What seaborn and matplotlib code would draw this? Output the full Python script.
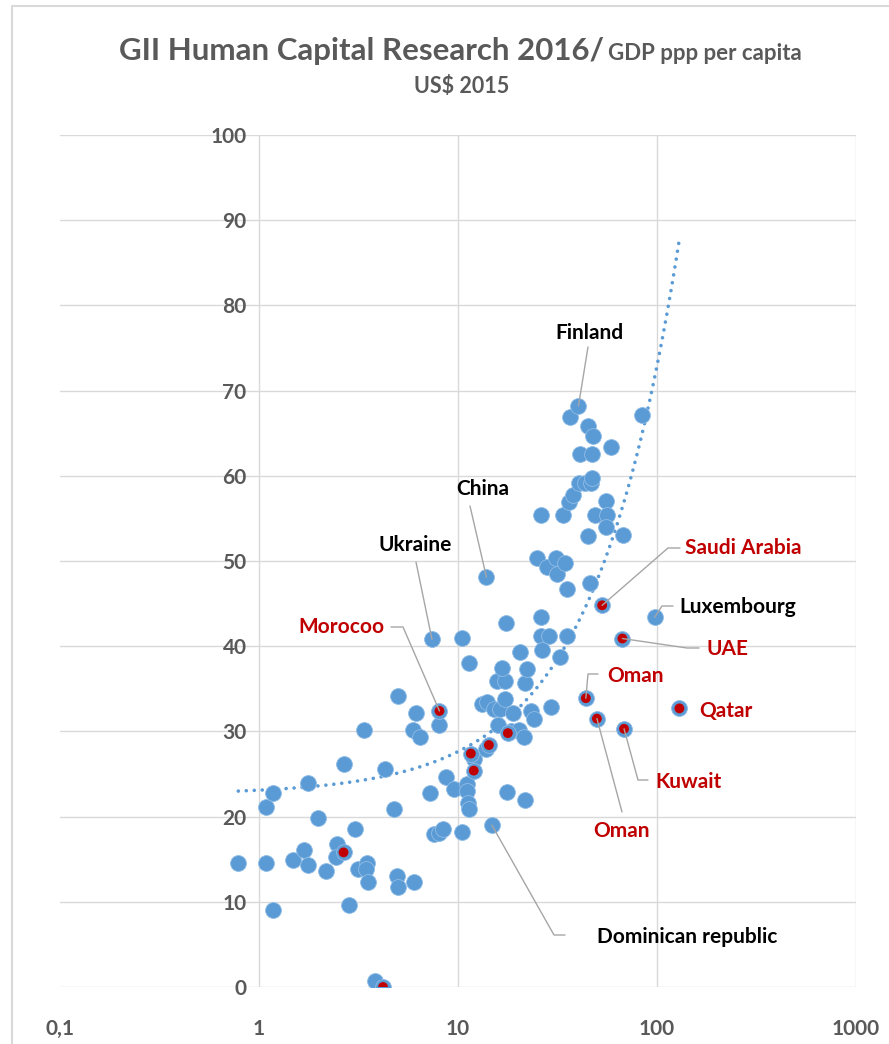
import numpy as np
import pandas as pd
import matplotlib.pyplot as plt
import seaborn as sns
from matplotlib.lines import Line2D

# GDP ppp per capita (thousand US$ 2015) and GII Human Capital & Research score
gdp = [0.787, 1.09, 1.18, 1.49, 1.69, 1.77, 2.17, 2.46, 2.44, 2.84, 3.04, 3.16, 3.48, 3.45,
       3.52, 4.94, 4.97, 6.0, 3.81, 4.79, 1.09, 1.18, 1.77, 1.97, 2.66, 3.36, 4.28, 4.97,
       6.18, 5.94, 6.43, 7.4, 8.07, 7.27, 8.66, 9.54, 7.6, 8.0, 8.4, 10.5, 10.5, 11.1, 11.1,
       11.2, 11.3, 11.3, 12.0, 13.8, 14.8, 13.2, 14.0, 15.1, 16.3, 15.7, 17.3, 15.9, 17.3,
       16.7, 17.5, 17.7, 18.4, 20.3, 21.5, 19.0, 20.4, 21.6, 21.7, 22.3, 23.2, 24.0, 13.9,
       25.0, 26.1, 26.1, 28.5, 26.3, 26.2, 27.9, 29.2, 31.0, 31.4, 32.5, 33.7, 34.4, 35.5,
       35.5, 36.2, 37.9, 36.4, 40.3, 41.1, 40.6, 43.4, 46.5, 47.2, 45.2, 47.6, 47.2, 45.2,
       46.0, 48.6, 55.7, 56.3, 55.3, 58.5, 67.8, 84.0, 97.3]
score = [14.6, 14.5, 9.0, 14.9, 16.1, 14.3, 13.6, 16.8, 15.3, 9.6, 18.6, 13.9, 14.5, 13.9,
         12.3, 13.0, 11.7, 12.3, 0.7, 20.9, 21.1, 22.8, 24.0, 19.8, 26.2, 30.2, 25.6, 34.1,
         32.2, 30.2, 29.3, 40.8, 30.8, 22.8, 24.6, 23.2, 17.9, 18.1, 18.5, 18.2, 41.0, 23.8,
         23.0, 21.6, 20.9, 38.0, 26.8, 27.9, 19.0, 33.2, 33.4, 32.6, 32.6, 35.9, 35.9, 30.7,
         33.8, 37.5, 42.7, 22.9, 30.0, 30.2, 29.3, 32.2, 39.3, 35.7, 22.0, 37.3, 32.4, 31.4,
         48.1, 50.3, 43.4, 41.2, 41.2, 39.6, 55.4, 49.3, 32.9, 50.4, 48.5, 38.7, 55.4, 49.8,
         41.2, 46.7, 56.9, 57.8, 66.9, 68.2, 62.6, 59.1, 59.1, 59.1, 59.8, 65.9, 64.7, 62.6,
         52.9, 47.4, 55.4, 57.0, 55.4, 54.0, 63.4, 53.1, 67.1, 43.4]

# Arab countries, highlighted in red
arab_gdp = [8.07, 11.6, 12.0, 14.3, 17.8, 2.66, 4.20, 53.0, 67.0, 43.9, 49.9, 68.3, 129.6]
arab_score = [32.4, 27.4, 25.4, 28.4, 29.8, 15.8, 0.0, 44.8, 40.9, 33.9, 31.5, 30.3, 32.7]

# linear trendline y = a + b*x
trend_a = 22.6
trend_b = 0.503

x_ticks = [0.1, 1, 10, 100, 1000]
x_tick_labels = ["0,1", "1", "10", "100", "1000"]
y_ticks = list(range(0, 101, 10))

BLUE = "#5B9BD5"
RED = "#C00000"
GREY = "#595959"

W, H = 889, 1044
sns.set_style("white")
plt.rcParams['font.family'] = ['Lato', 'DejaVu Sans']

fig = plt.figure(figsize=(W / 100, H / 100), dpi=100)
ax = fig.add_axes([60 / W, 1 - 987 / H, (856 - 60) / W, (987 - 135) / H])

df = pd.DataFrame({'gdp': gdp, 'score': score})
arab = pd.DataFrame({'gdp': arab_gdp, 'score': arab_score})

ax.set_xscale('log')
ax.set_xlim(0.1, 1000)
ax.set_ylim(0, 100)

# gridlines
for v in y_ticks:
    ax.axhline(v, color="#D9D9D9", lw=1, zorder=0)
for v in x_ticks[1:]:
    ax.axvline(v, color="#D9D9D9", lw=1, zorder=0)

# trendline
xt = np.geomspace(min(gdp), max(arab_gdp), 400)
ax.plot(xt, trend_a + trend_b * xt, color=BLUE, lw=2.6,
        linestyle=(0, (0.01, 2.2)), dash_capstyle='round', zorder=1)

sns.scatterplot(data=df, x='gdp', y='score', ax=ax, s=130, color=BLUE,
                edgecolor='#8FBCE6', linewidth=0.6, zorder=3, legend=False)
sns.scatterplot(data=arab, x='gdp', y='score', ax=ax, s=130, color=BLUE,
                edgecolor='#8FBCE6', linewidth=0.6, zorder=4, legend=False)
sns.scatterplot(data=arab, x='gdp', y='score', ax=ax, s=50, color=RED,
                edgecolor='none', zorder=5, legend=False)

# axis styling: y axis crosses at x = 1
for s in ax.spines.values():
    s.set_visible(False)
ax.spines['left'].set_position(('data', 1))
ax.set_xticks(x_ticks)
ax.set_xticklabels(x_tick_labels)
ax.xaxis.set_minor_locator(plt.NullLocator())
ax.set_yticks(y_ticks)
ax.tick_params(axis='both', length=0, labelsize=15, labelcolor=GREY)
ax.tick_params(axis='x', pad=23)
ax.tick_params(axis='y', pad=9)
for lab in ax.get_xticklabels() + ax.get_yticklabels():
    lab.set_fontweight('bold')
ax.set_xlabel('')
ax.set_ylabel('')

# chart border (left and top edges)
fig.add_artist(Line2D([12, 12, W], [0, H - 6, H - 6], transform=None,
                      color='#D9D9D9', lw=1.5))

# title
fig.text(604 / W, 1 - 60 / H, "GII Human Capital Research 2016/", ha='right', va='baseline',
         fontsize=22.5, fontweight='bold', color=GREY)
fig.text(608 / W, 1 - 60 / H, "GDP ppp per capita", ha='left', va='baseline',
         fontsize=16, fontweight='bold', color=GREY)
fig.text(462 / W, 1 - 93 / H, "US$ 2015", ha='center', va='baseline',
         fontsize=15.5, fontweight='bold', color=GREY)

# labels with leader lines: (text, colour, point, text pixel, ha, elbow pixels)
labels = [
    ("Finland", "black", (gdp[89], score[89]), (589, 333), 'center', [(588, 347)]),
    ("China", "black", (gdp[70], score[70]), (483, 489), 'center', [(470, 506)]),
    ("Ukraine", "black", (gdp[31], score[31]), (415, 545), 'center', [(416, 562)]),
    ("Morocoo", RED, (arab_gdp[0], arab_score[0]), (385, 627), 'right', [(391, 627), (403, 627)]),
    ("Saudi Arabia", RED, (arab_gdp[7], arab_score[7]), (685, 548), 'left', [(680, 548), (668, 548)]),
    ("Luxembourg", "black", (gdp[107], score[107]), (679, 607), 'left', [(673, 606), (662, 606)]),
    ("UAE", RED, (arab_gdp[8], arab_score[8]), (706, 649), 'left', [(699, 648), (687, 648)]),
    ("Oman", RED, (arab_gdp[9], arab_score[9]), (607, 676), 'left', [(598, 674), (588, 674)]),
    ("Qatar", RED, None, (699, 711), 'left', []),
    ("Kuwait", RED, (arab_gdp[11], arab_score[11]), (655, 782), 'left', [(648, 780), (638, 780)]),
    ("Oman", RED, (arab_gdp[10], arab_score[10]), (622, 831), 'center', [(622, 812)]),
    ("Dominican republic", "black", (gdp[48], score[48]), (597, 937), 'left', [(565, 935), (554, 935)]),
]
for text, col, pt, (tx, ty), ha, elbow in labels:
    fig.text(tx / W, 1 - ty / H, text, ha=ha, va='center', fontsize=15,
             fontweight='bold', color=col, zorder=6)
    if pt is not None and elbow:
        px, py = ax.transData.transform(pt)
        xs = [e[0] for e in elbow] + [px]
        ys = [H - e[1] for e in elbow] + [py]
        fig.add_artist(Line2D(xs, ys, transform=None, color='#A6A6A6', lw=1, zorder=2))

fig.savefig('out.png', dpi=100)
